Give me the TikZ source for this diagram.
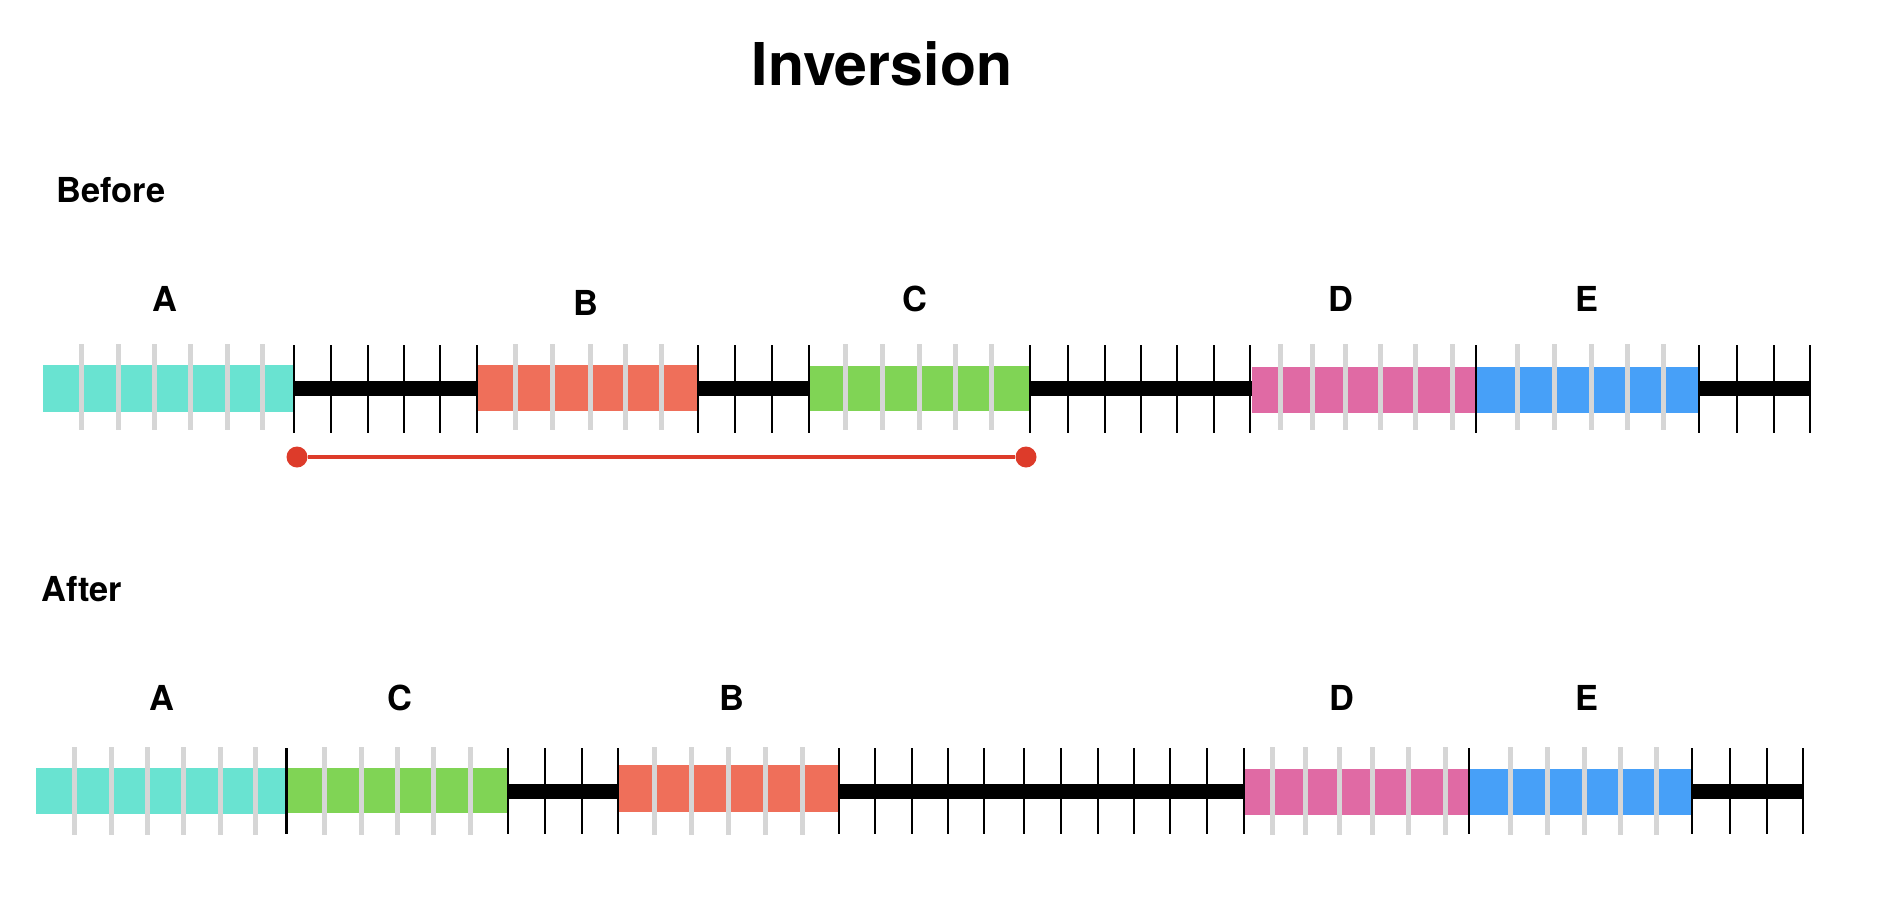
\documentclass[tikz,border=0pt]{standalone}
\usepackage{fontspec}
\setmainfont{TeX Gyre Heros}
\definecolor{cteal}{HTML}{69E3D1}
\definecolor{csalmon}{HTML}{EF6F5A}
\definecolor{cgreen}{HTML}{80D455}
\definecolor{cpink}{HTML}{E06AA4}
\definecolor{cblue}{HTML}{47A0F8}
\definecolor{cred}{HTML}{DD3B2A}
\definecolor{cgray}{HTML}{D6D6D6}
\tikzset{
  bar/.style={line width=7.5pt, black},
  btick/.style={line width=1.25pt, black},
  gtick/.style={line width=2.5pt, cgray},
  lbl/.style={font=\bfseries\fontsize{17.2}{20}\selectfont, inner sep=0pt},
  ttl/.style={font=\bfseries\fontsize{29.5}{34}\selectfont, inner sep=0pt},
  dotend/.style={circle, fill=cred, minimum size=10.5pt, inner sep=0pt}
}
\begin{document}
\begin{tikzpicture}[x=0.5pt,y=-0.5pt]
\useasboundingbox (0,0) rectangle (1884,910);
% title
\node[ttl] (title) at (882,64) {Inversion};
\node[lbl, anchor=west] (before) at (56,190) {Before};
\node[lbl, anchor=west] (after) at (41,589) {After};
% ---------- Before row ----------
\draw[bar] (293,388.5) -- (1810,388.5);
\fill[cteal] (43,365) rectangle (293,412);
\fill[csalmon] (478,365) rectangle (698,411);
\fill[cgreen] (809,366) rectangle (1030,411);
\fill[cpink] (1252,367) rectangle (1476,413);
\fill[cblue] (1476,367) rectangle (1699,413);
\foreach \x in {81,118,154,190,227,262,515,552,590,625,661,845,882,919,955,991,1280,1312,1345,1380,1415,1452,1517,1554,1591,1627,1663}
  \draw[gtick] (\x,344) -- (\x,430);
\foreach \x in {294,331,368,404,440,477,698,735,772,809,1030,1068,1105,1141,1177,1214,1250,1476,1699,1737,1774,1810}
  \draw[btick] (\x,345) -- (\x,433);
\node[lbl] (bA) at (165,299) {A};
\node[lbl] (bB) at (586,303) {B};
\node[lbl] (bC) at (915,299) {C};
\node[lbl] (bD) at (1341,299) {D};
\node[lbl] (bE) at (1587,299) {E};
% inversion span
\node[dotend] (s1) at (297,457) {};
\node[dotend] (s2) at (1026,457) {};
\draw[cred, line width=2.3pt] (s1) -- (s2);
% ---------- After row ----------
\draw[bar] (286,791) -- (1803,791);
\fill[cteal] (36,768) rectangle (286,814);
\fill[cgreen] (286,768) rectangle (507,813);
\fill[csalmon] (618,765) rectangle (839,812);
\fill[cpink] (1244,769) rectangle (1469,815);
\fill[cblue] (1469,769) rectangle (1692,815);
\foreach \x in {74,111,147,183,220,255,324,361,397,433,470,654,691,728,765,802,1272,1305,1339,1372,1408,1445,1510,1547,1584,1620,1656}
  \draw[gtick] (\x,747) -- (\x,835);
\foreach \x in {286.5,508,545,582,618,839,875,912,948,984,1024,1061,1098,1134,1170,1207,1244,1469,1692,1730,1767,1803}
  \draw[btick] (\x,748) -- (\x,834);
\node[lbl] (aA) at (162,698) {A};
\node[lbl] (aC) at (400,698) {C};
\node[lbl] (aB) at (732,698) {B};
\node[lbl] (aD) at (1342,698) {D};
\node[lbl] (aE) at (1587,698) {E};
\end{tikzpicture}
\end{document}
